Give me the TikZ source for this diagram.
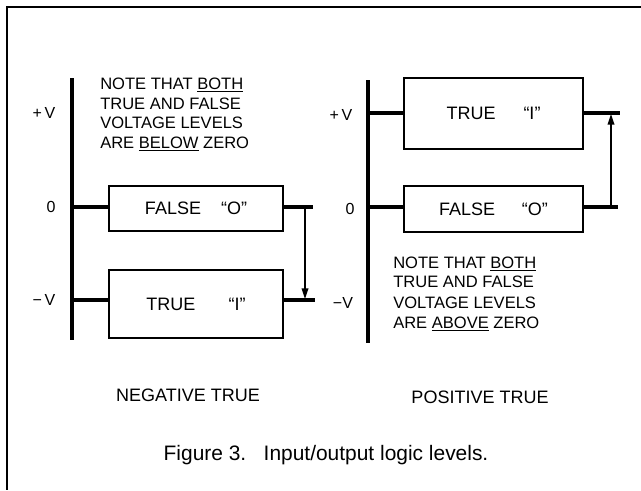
\documentclass[tikz,border=0pt]{standalone}
\usepackage{fontspec}
\setmainfont{Liberation Sans}
\usetikzlibrary{arrows.meta}
\begin{document}
\begin{tikzpicture}[x=0.75pt,y=-0.75pt,
  axisline/.style={line width=2.7pt},
  levelline/.style={line width=2.6pt},
  levelbox/.style={draw,line width=1.1pt,inner sep=0pt,font=\fontsize{13.5}{15}\selectfont},
  notetext/.style={anchor=base west,inner sep=0pt,font=\fontsize{12.4}{14}\selectfont},
  vlabel/.style={inner sep=0pt,font=\fontsize{12}{14}\selectfont},
  arrowline/.style={line width=1.1pt,-{Triangle[length=8pt,width=5pt]}},
  title/.style={inner sep=0pt,font=\fontsize{13.5}{16}\selectfont},
  caption/.style={inner sep=0pt,font=\fontsize{15.7}{18}\selectfont}]
\useasboundingbox (0,0) rectangle (641,490);
% frame
\coordinate (fTR) at (641,7);
\coordinate (fTL) at (7,7);
\coordinate (fBL) at (7,490);
\draw[line width=1.1pt] (fTR) -- (fTL) -- (fBL);

% ===== left: negative true =====
\coordinate (laT) at (72,78);
\coordinate (laB) at (72,340);
\draw[axisline] (laT) -- (laB);
\node[vlabel] (lpv) at (44,113) {+\,V};
\node[vlabel] (lzero) at (51,207) {0};
\node[vlabel] (lmv) at (44,300) {−\,V};

\node[levelbox,minimum width=130.5pt,minimum height=33.75pt] (lfalse) at (196,208.5) {FALSE\hspace{15pt}“O”};
\node[levelbox,minimum width=130.5pt,minimum height=51pt] (ltrue) at (196,304) {TRUE\hspace{25pt}“I”};

\coordinate (lz) at (72,207);
\coordinate (lzr) at (313,207);
\coordinate (lm) at (72,300);
\coordinate (lmr) at (315,300);
\draw[levelline] (lz) -- (lz -| lfalse.west);
\draw[levelline] (lz -| lfalse.east) -- (lzr);
\draw[levelline] (lm) -- (lm -| ltrue.west);
\draw[levelline] (lm -| ltrue.east) -- (lmr);
\coordinate (laS) at (305,207);
\coordinate (laE) at (305,299);
\draw[arrowline] (laS) -- (laE);

\node[notetext] (ln1) at (100,89) {NOTE THAT \underline{BOTH}};
\node[notetext] (ln2) at (100,109) {TRUE AND FALSE};
\node[notetext] (ln3) at (100,128) {VOLTAGE LEVELS};
\node[notetext] (ln4) at (100,148) {ARE \underline{BELOW} ZERO};

% ===== right: positive true =====
\coordinate (raT) at (368,80);
\coordinate (raB) at (368,343);
\draw[axisline] (raT) -- (raB);
\node[vlabel] (rpv) at (341,115) {+\,V};
\node[vlabel] (rzero) at (350,209) {0};
\node[vlabel] (rmv) at (343,303) {−V};

\node[levelbox,minimum width=134.25pt,minimum height=53.25pt] (rtrue) at (493.5,113.5) {TRUE\hspace{21pt}“I”\hspace{6pt}};
\node[levelbox,minimum width=134.25pt,minimum height=34.5pt] (rfalse) at (493.5,209) {FALSE\hspace{20pt}“O”\hspace{6pt}};

\coordinate (rp) at (368,113);
\coordinate (rpr) at (620,113);
\coordinate (rz) at (368,207);
\coordinate (rzr) at (618,207);
\draw[levelline] (rp) -- (rp -| rtrue.west);
\draw[levelline] (rp -| rtrue.east) -- (rpr);
\draw[levelline] (rz) -- (rz -| rfalse.west);
\draw[levelline] (rz -| rfalse.east) -- (rzr);
\coordinate (raS) at (611,207);
\coordinate (raE) at (611,114);
\draw[arrowline] (raS) -- (raE);

\node[notetext] (rn1) at (393,268) {NOTE THAT \underline{BOTH}};
\node[notetext] (rn2) at (393,287) {TRUE AND FALSE};
\node[notetext] (rn3) at (393,308) {VOLTAGE LEVELS};
\node[notetext] (rn4) at (393,328) {ARE \underline{ABOVE} ZERO};

% ===== titles =====
\node[title] (negt) at (188,395) {NEGATIVE TRUE};
\node[title] (post) at (480,397) {POSITIVE TRUE};
\node[caption] (cap) at (326,455) {Figure 3.\ \ \ Input/output logic levels.};
\end{tikzpicture}
\end{document}
